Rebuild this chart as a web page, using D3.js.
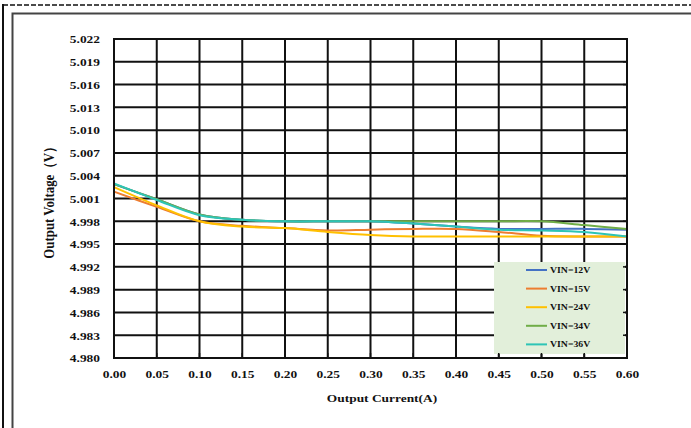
<!DOCTYPE html>
<html>
<head>
<meta charset="utf-8">
<script src="https://cdn.jsdelivr.net/npm/d3@7"></script>
<style>
  body { margin: 0; background: #fff; }
  svg text { font-family: "Liberation Serif", "Times New Roman", serif; font-weight: bold; fill: #111; }
</style>
</head>
<body>
<div class="chart"></div>
<script>
const current = [0, 0.05, 0.10, 0.15, 0.20, 0.25, 0.30, 0.35, 0.40, 0.45, 0.50, 0.55, 0.60]
const vin12 = [5.0029, 5.0009, 4.9989, 4.9982, 4.9980, 4.9980, 4.9980, 4.9977, 4.9973, 4.9970, 4.9970, 4.9970, 4.9969]
const vin15 = [5.0019, 4.9999, 4.9980, 4.9974, 4.9971, 4.9968, 4.9969, 4.9970, 4.9970, 4.9966, 4.9961, 4.9960, 4.9960]
const vin24 = [5.0025, 5.0001, 4.9980, 4.9973, 4.9971, 4.9966, 4.9962, 4.9960, 4.9960, 4.9960, 4.9960, 4.9960, 4.9960]
const vin34 = [5.0029, 5.0009, 4.9989, 4.9982, 4.9980, 4.9980, 4.9980, 4.9980, 4.9980, 4.9980, 4.9980, 4.9975, 4.9970]
const vin36 = [5.0030, 5.0008, 4.9988, 4.9982, 4.9980, 4.9980, 4.9980, 4.9977, 4.9973, 4.9969, 4.9968, 4.9966, 4.9960]
const seriesNames = ["VIN=12V", "VIN=15V", "VIN=24V", "VIN=34V", "VIN=36V"]
const colors = ["#4472C4", "#ED7D31", "#FFC000", "#70AD47", "#2EC4B6"]
const yTicks = d3.range(0, 15).map(i => +(4.980 + i * 0.003).toFixed(3))
const xTicks = current

const width = 691
const height = 428
const pLeft = 114, pRight = 627, pTop = 39, pBottom = 358
const stretch = 1.22

const all = [vin12, vin15, vin24, vin34, vin36]

const xScale = d3.scaleLinear().domain([0, 0.6]).range([pLeft, pRight])
const yScale = d3.scaleLinear().domain([4.980, 5.022]).range([pBottom, pTop])

const svg = d3.select(".chart").append("svg")
    .attr("width", width)
    .attr("height", height)

// page frame
svg.append("line")
    .attr("x1", 3).attr("x2", width).attr("y1", 5).attr("y2", 5)
    .attr("stroke", "#111").attr("stroke-width", 1.5)
    .attr("stroke-dasharray", "5,2")
svg.append("line")
    .attr("x1", 3).attr("x2", 3).attr("y1", 4).attr("y2", height)
    .attr("stroke", "#111").attr("stroke-width", 2)
svg.append("path")
    .attr("d", `M12.5,${height} V13.5 H${width}`)
    .attr("fill", "none").attr("stroke", "#444").attr("stroke-width", 2)

// grid
svg.append("g")
    .selectAll("line")
    .data(yTicks)
    .join("line")
    .attr("x1", pLeft).attr("x2", pRight)
    .attr("y1", d => yScale(d)).attr("y2", d => yScale(d))
    .attr("stroke", "#111").attr("stroke-width", 2)

svg.append("g")
    .selectAll("line")
    .data(xTicks)
    .join("line")
    .attr("x1", d => xScale(d)).attr("x2", d => xScale(d))
    .attr("y1", pTop).attr("y2", pBottom)
    .attr("stroke", "#111").attr("stroke-width", 2)

// axes labels (stretched horizontally like the picture)
const yAxis = d3.axisLeft(yScale).tickValues(yTicks).tickFormat(d3.format(".3f")).tickSize(0).tickPadding(0)
svg.append("g")
    .attr("transform", `translate(${pLeft},0)`)
    .call(yAxis)
    .call(g => g.select(".domain").remove())
    .call(g => g.selectAll("text")
        .attr("x", -14 / stretch)
        .attr("dy", "0.35em")
        .attr("font-size", 11)
        .attr("transform", `scale(${stretch},1)`))

const xAxis = d3.axisBottom(xScale).tickValues(xTicks).tickFormat(d3.format(".2f")).tickSize(0).tickPadding(0)
svg.append("g")
    .attr("transform", `translate(0,${pBottom})`)
    .call(xAxis)
    .call(g => g.select(".domain").remove())
    .call(g => g.selectAll("text")
        .attr("y", 20)
        .attr("dy", 0)
        .attr("font-size", 11)
        .attr("transform", `scale(${stretch},1)`))

svg.append("text")
    .attr("transform", `translate(382,402) scale(${stretch},1)`)
    .attr("text-anchor", "middle")
    .attr("font-size", 11)
    .text("Output Current(A)")

svg.append("text")
    .attr("transform", `translate(54,${(pTop + pBottom) / 2 + 1}) rotate(-90) scale(1.12,1.2)`)
    .attr("text-anchor", "middle")
    .attr("font-size", 11.5)
    .text("Output Voltage（V）")

// lines
const line = d3.line()
    .x((d, i) => xScale(current[i]))
    .y(d => yScale(d))
    .curve(d3.curveCatmullRom.alpha(0.5))

svg.append("g")
    .selectAll("path")
    .data(all)
    .join("path")
    .attr("d", line)
    .attr("fill", "none")
    .attr("stroke", (d, i) => colors[i])
    .attr("stroke-width", 2)

// legend
const lg = svg.append("g").attr("transform", "translate(494,262)")
lg.append("rect")
    .attr("width", 131).attr("height", 92)
    .attr("fill", "#E2EFDA")
const item = lg.selectAll("g")
    .data(seriesNames)
    .join("g")
    .attr("transform", (d, i) => `translate(0,${8 + i * 18.6})`)
item.append("line")
    .attr("x1", 32).attr("x2", 53)
    .attr("stroke", (d, i) => colors[i])
    .attr("stroke-width", 2)
item.append("text")
    .attr("transform", "translate(56,0) scale(1.15,1)")
    .attr("dy", "0.35em")
    .attr("font-size", 8.5)
    .text(d => d)

// frame and inside ticks
svg.append("rect")
    .attr("x", pLeft).attr("y", pTop)
    .attr("width", pRight - pLeft).attr("height", pBottom - pTop)
    .attr("fill", "none").attr("stroke", "#111").attr("stroke-width", 2)

svg.append("g")
    .selectAll("line")
    .data(xTicks)
    .join("line")
    .attr("x1", d => xScale(d)).attr("x2", d => xScale(d))
    .attr("y1", pBottom - 5).attr("y2", pBottom)
    .attr("stroke", "#111").attr("stroke-width", 1.5)

svg.append("g")
    .selectAll("line")
    .data(yTicks)
    .join("line")
    .attr("x1", pRight - 4).attr("x2", pRight)
    .attr("y1", d => yScale(d)).attr("y2", d => yScale(d))
    .attr("stroke", "#111").attr("stroke-width", 1.5)
</script>
</body>
</html>
